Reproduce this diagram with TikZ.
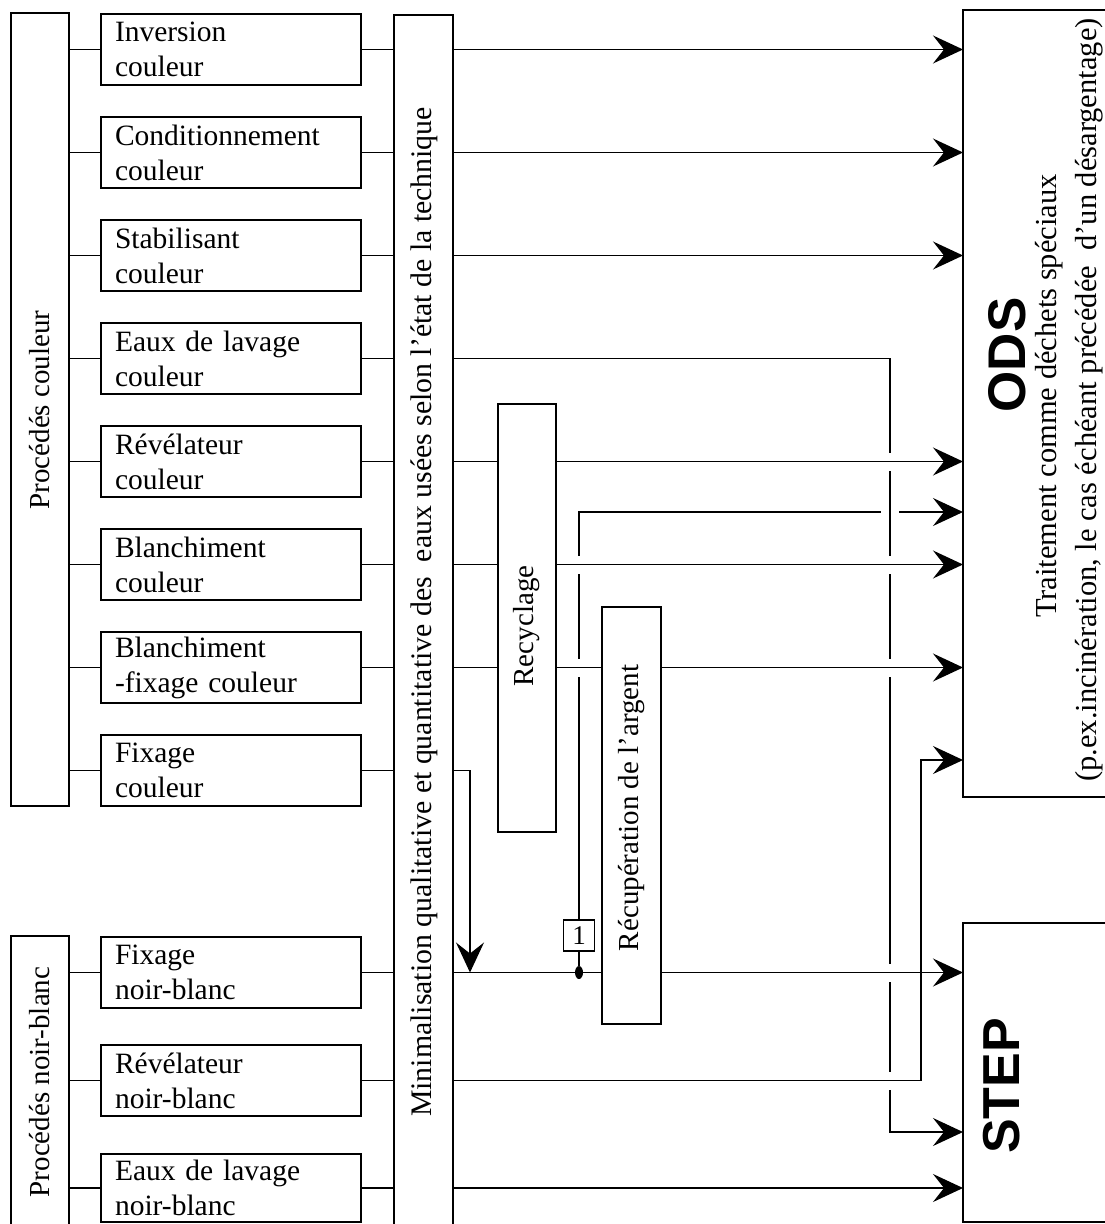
\documentclass[tikz,border=0pt]{standalone}
\usepackage{fontspec}
\setmainfont{Liberation Serif}
\newfontfamily\headfont{Liberation Sans}
\usetikzlibrary{arrows.meta,shapes.geometric}
\pgfdeclarelayer{back}
\pgfdeclarelayer{lines}
\pgfsetlayers{back,lines,main}
\begin{document}
\begin{tikzpicture}[x=1pt,y=-1pt,
  every node/.style={inner sep=0pt, outer sep=0pt},
  box/.style={draw, line width=1.2pt, rectangle},
  proc/.style={box, minimum width=260pt, minimum height=71pt, text width=232pt, align=left, font=\fontsize{29.5}{35}\selectfont},
  rotlabel/.style={rotate=90, font=\fontsize{29}{32}\selectfont},
  wire/.style={line width=1.2pt},
  flow/.style={wire, -{Stealth[length=30pt,width=28pt,inset=11pt]}},
  halo/.style={preaction={draw=white, line width=18pt, -}},
]
\useasboundingbox (0,0) rectangle (1104,1224);
\begin{pgfonlayer}{back}
\fill[white] (0,0) rectangle (1104,1224);
\end{pgfonlayer}

% group boxes
\node[box, minimum width=58pt, minimum height=793pt] (grpC) at (40,409.5) {};
\node[rotlabel] (grpCt) at (40,410) {Procédés couleur};
\node[box, minimum width=58pt, minimum height=292pt] (grpN) at (40,1082) {};
\node[rotlabel] (grpNt) at (40,1082) {Procédés noir-blanc};

% process boxes
\node[proc] (p1) at (231,49.5) {Inversion\\couleur};
\node[proc] (p2) at (231,152.5) {Conditionnement\\couleur};
\node[proc] (p3) at (231,255.5) {Stabilisant\\couleur};
\node[proc] (p4) at (231,358.5) {Eaux de lavage\\couleur};
\node[proc] (p5) at (231,461.5) {Révélateur\\couleur};
\node[proc] (p6) at (231,564.5) {Blanchiment\\couleur};
\node[proc] (p7) at (231,667.5) {Blanchiment\\-fixage couleur};
\node[proc] (p8) at (231,770.5) {Fixage\\couleur};
\node[proc] (q1) at (231,972.5) {Fixage\\noir-blanc};
\node[proc] (q2) at (231,1080.5) {Révélateur\\noir-blanc};
\node[proc, minimum height=68pt] (q3) at (231,1188) {Eaux de lavage\\noir-blanc};

% minimalisation
\node[box, minimum width=59pt, minimum height=1214pt] (mini) at (423.5,622) {};
\node[rotlabel, font=\fontsize{29.8}{32}\selectfont] (minit) at (424,612) {Minimalisation qualitative et quantitative des\ \ eaux usées selon l’état de la technique};

% recyclage / recuperation
\node[box, minimum width=58pt, minimum height=428pt] (recy) at (527,618) {};
\node[rotlabel] (recyt) at (527,626) {Recyclage};
\node[box, minimum width=59pt, minimum height=417pt] (recup) at (631.5,815.5) {};
\node[rotlabel] (recupt) at (632,808) {Récupération de l’argent};

% ODS / STEP
\node[box, minimum width=157pt, minimum height=787pt] (ods) at (1041.5,403.5) {};
\node[rotate=90, font=\headfont\bfseries\fontsize{53}{53}\selectfont] (odst) at (1007,355) {ODS};
\node[rotate=90, font=\fontsize{30.5}{34}\selectfont] (odsl1) at (1049,396) {Traitement comme déchets spéciaux};
\node[rotate=90, font=\fontsize{30.5}{34}\selectfont] (odsl2) at (1089,400) {(p.ex.incinération, le cas échéant précédée\ \ d’un désargentage)};
\node[box, minimum width=157pt, minimum height=299pt] (step) at (1041.5,1072.5) {};
\node[rotate=90, font=\headfont\bfseries\fontsize{52}{52}\selectfont] (stept) at (1002,1086) {STEP};

% small box 1 and junction dot
\node[box, minimum width=31pt, minimum height=31pt, font=\fontsize{27}{27}\selectfont] (one) at (579,935.5) {1};
\node[fill, ellipse, minimum width=8pt, minimum height=13pt] (dot) at (579,972.5) {};

% routing coordinates
\coordinate (c512) at (579,512);
\coordinate (vA) at (890,358.5);
\coordinate (vAb) at (890,1132);
\coordinate (vB) at (921,1080.5);
\coordinate (vBt) at (921,760);
\coordinate (fx) at (470,770.5);
\coordinate (fxb) at (470,972.5);

\begin{pgfonlayer}{lines}
\foreach \p in {p1,p2,p3,p4,p5,p6,p7,p8} {
  \draw[wire] (grpC.east |- \p.west) -- (\p.west);
  \draw[wire] (\p.east) -- (mini.west |- \p.east);
}
\foreach \p in {q1,q2,q3} {
  \draw[wire] (grpN.east |- \p.west) -- (\p.west);
  \draw[wire] (\p.east) -- (mini.west |- \p.east);
}
\foreach \p in {p1,p2,p3}
  \draw[flow] (mini.east |- \p.east) -- (ods.west |- \p.east);

% silver recovery bypass via box 1
\draw[wire] (dot) -- (one.south);
\draw[flow] (one.north) -- (c512) -- (ods.west |- c512);
% eaux de lavage couleur to STEP
\draw[flow, halo] (mini.east |- p4.east) -- (vA) -- (vAb) -- (step.west |- vAb);
% revelateur / blanchiment through recyclage
\draw[wire] (mini.east |- p5.east) -- (recy.west |- p5.east);
\draw[flow, halo] (recy.east |- p5.east) -- (ods.west |- p5.east);
\draw[wire] (mini.east |- p6.east) -- (recy.west |- p6.east);
\draw[flow, halo] (recy.east |- p6.east) -- (ods.west |- p6.east);
\draw[wire] (mini.east |- p7.east) -- (recy.west |- p7.east);
\draw[wire, halo] (recy.east |- p7.east) -- (recup.west |- p7.east);
\draw[flow, halo] (recup.east |- p7.east) -- (ods.west |- p7.east);
% fixage noir-blanc through recuperation
\draw[wire] (mini.east |- q1.east) -- (recup.west |- q1.east);
\draw[flow, halo] (recup.east |- q1.east) -- (step.west |- q1.east);
% revelateur noir-blanc to ODS
\draw[wire, halo] (mini.east |- q2.east) -- (vB);
\draw[flow] (vB) -- (vBt) -- (ods.west |- vBt);
% eaux de lavage noir-blanc
\draw[flow] (mini.east |- q3.east) -- (step.west |- q3.east);
% fixage couleur down to fixage line
\draw[flow] (mini.east |- p8.east) -- (fx) -- (fxb);
\end{pgfonlayer}
\end{tikzpicture}
\end{document}
